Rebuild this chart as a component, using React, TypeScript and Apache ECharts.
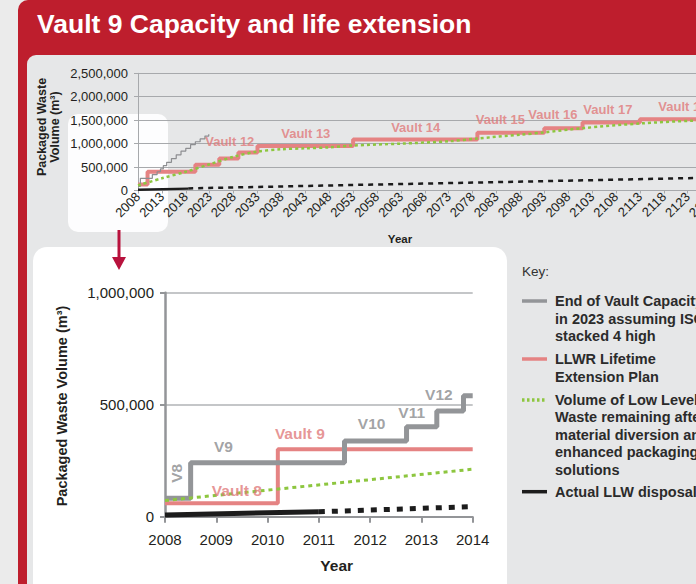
import React, { useEffect, useRef } from "react";
import * as echarts from "echarts";

const BASE_YEAR = 2008;

// ---------- Overview chart (2008 - 2133) ----------
const topCapacity: [number, number][] = [
  [2008, 90000], [2008.5, 260000], [2011, 340000], [2012, 400000], [2012.7, 460000],
  [2013.3, 530000], [2014, 600000], [2015, 680000], [2016, 760000], [2017, 840000],
  [2018, 900000], [2019, 980000], [2020, 1040000], [2021, 1100000], [2022, 1160000], [2022.8, 1200000],
];
const topPlan: [number, number][] = [
  [2008, 130000], [2010, 400000], [2020, 550000], [2025, 680000], [2029, 810000],
  [2033, 950000], [2053, 1090000], [2079, 1230000], [2093, 1330000], [2101, 1450000],
  [2113, 1520000], [2133, 1520000],
];
const topRemaining: [number, number][] = [
  [2008, 110000], [2013, 260000], [2018, 400000], [2023, 560000], [2028, 720000],
  [2033, 830000], [2038, 880000], [2043, 900000], [2048, 920000], [2053, 960000],
  [2063, 1000000], [2073, 1050000], [2079, 1110000], [2088, 1190000], [2093, 1240000],
  [2101, 1330000], [2113, 1430000], [2124, 1490000], [2133, 1520000],
];
const topActual: [number, number][] = [[2008, 15000], [2018.5, 40000]];
const topProjected: [number, number][] = [[2018.5, 45000], [2053, 118000], [2085, 182000], [2133, 285000]];
const topVaultLabels: [number, number, string][] = [
  [2027.2, 1041000, "Vault 12"], [2043.1, 1206000, "Vault 13"], [2066.1, 1340000, "Vault 14"],
  [2083.8, 1519000, "Vault 15"], [2094.8, 1625000, "Vault 16"], [2106.3, 1732000, "Vault 17"],
  [2122.0, 1802000, "Vault 18"],
];

// ---------- Detail chart (2008 - 2014) ----------
const zoomCapacity: [number, number][] = [
  [2008, 82000], [2008.5, 241000], [2011.5, 338000], [2012.71, 402000],
  [2013.3, 472000], [2013.82, 540000], [2014, 540000],
];
const zoomPlan: [number, number][] = [[2008, 60000], [2010.2, 301000], [2014, 301000]];
const zoomRemaining: [number, number][] = [[2008, 72000], [2014, 212000]];
const zoomActual: [number, number][] = [[2008, 8000], [2011, 22000]];
const zoomProjected: [number, number][] = [[2011, 22000], [2014, 45000]];
const zoomCapacityLabels: [number, number, string][] = [
  [2008.23, 194000, "V8"], [2009.14, 312000, "V9"], [2012.03, 414000, "V10"],
  [2012.81, 466000, "V11"], [2013.34, 546000, "V12"],
];
const zoomPlanLabels: [number, number, string][] = [
  [2009.4, 119000, "Vault 8"], [2010.63, 372000, "Vault 9"],
];

const FONT = '"Liberation Sans", Arial, Helvetica, sans-serif';
const RED = "#be1e2d";
const PANEL = "#e6e7e8";
const PINK = "#e58383";
const PINK_TEXT = "#e07a7a";
const GRAY = "#939598";
const GRAY_TEXT = "#8a8b8e";
const GREEN = "#8dc63f";
const BLACK = "#1c1c1c";
const ARROW = "#b8123d";
const AXIS_TOP = "#a7a9ac";
const TEXT = "#231f20";

const CHART_W = 760;
const CHART_H = 584;

const fmt = (v: number) => v.toLocaleString("en-US");
const shift = (pts: [number, number][]) => pts.map(([y, v]) => [y - BASE_YEAR, v]);

function keyText(y: number, text: string) {
  return {
    type: "text",
    z: 10,
    x: 555,
    y: y - 8.7,
    style: {
      text,
      font: `bold 14.5px ${FONT}`,
      fill: "#2b2b2b",
      lineHeight: 17.4,
      align: "left",
      verticalAlign: "top",
    },
  };
}

function keySwatch(y: number, color: string, dash?: number[]) {
  return {
    type: "line",
    z: 10,
    shape: { x1: 522, y1: y, x2: 547, y2: y },
    style: { stroke: color, lineWidth: 3.5, lineDash: dash },
  };
}

function buildOption(): any {
  return {
    animation: false,
    textStyle: { fontFamily: FONT },
    grid: [
      { left: 138, top: 73.3, width: 597.5, height: 117.2 },
      { left: 165, top: 292.7, width: 307.7, height: 224 },
    ],
    xAxis: [
      {
        gridIndex: 0, type: "value", min: 0, max: 125, interval: 5,
        axisLine: { lineStyle: { color: AXIS_TOP, width: 1 } },
        axisTick: { show: true, length: 3, lineStyle: { color: AXIS_TOP } },
        splitLine: { show: false },
        axisLabel: { rotate: 45, fontSize: 13, color: TEXT, margin: 4, formatter: (v: number) => String(v + BASE_YEAR) },
      },
      {
        gridIndex: 1, type: "value", min: 2008, max: 2014, interval: 1,
        axisLine: { lineStyle: { color: GRAY, width: 2 } },
        axisTick: { show: true, length: 6, lineStyle: { color: GRAY, width: 2 } },
        splitLine: { show: false },
        axisLabel: { fontSize: 15, color: TEXT, margin: 15, formatter: (v: number) => String(v) },
      },
    ],
    yAxis: [
      {
        gridIndex: 0, type: "value", min: 0, max: 2500000, interval: 500000,
        axisLine: { show: true, lineStyle: { color: AXIS_TOP, width: 1 } },
        axisTick: { show: true, length: 4, lineStyle: { color: AXIS_TOP } },
        splitLine: { show: true, lineStyle: { color: AXIS_TOP, width: 1 } },
        axisLabel: { fontSize: 13, color: TEXT, margin: 10, formatter: fmt },
      },
      {
        gridIndex: 1, type: "value", min: 0, max: 1000000, interval: 500000,
        axisLine: { show: true, lineStyle: { color: GRAY, width: 2.5 } },
        axisTick: { show: true, length: 5, lineStyle: { color: GRAY, width: 2 } },
        splitLine: { show: true, lineStyle: { color: "#b1b3b6", width: 1.5 } },
        axisLabel: { fontSize: 15, color: TEXT, margin: 11, formatter: fmt },
      },
    ],
    series: [
      // ----- overview -----
      {
        name: "LLWR Lifetime Extension Plan", type: "line", xAxisIndex: 0, yAxisIndex: 0,
        step: "end", symbol: "none", data: shift(topPlan),
        lineStyle: { color: PINK, width: 4 }, z: 3,
      },
      {
        name: "End of Vault Capacity in 2023 assuming ISOs stacked 4 high", type: "line", xAxisIndex: 0, yAxisIndex: 0,
        step: "end", symbol: "none", data: shift(topCapacity),
        lineStyle: { color: "#8d8e91", width: 1.2 }, z: 4,
      },
      {
        name: "Volume of Low Level Waste remaining", type: "line", xAxisIndex: 0, yAxisIndex: 0,
        smooth: 0.3, symbol: "none", data: shift(topRemaining),
        lineStyle: { color: GREEN, width: 2.5, type: [3, 3] }, z: 5,
      },
      {
        name: "Actual LLW disposal", type: "line", xAxisIndex: 0, yAxisIndex: 0,
        symbol: "none", data: shift(topActual),
        lineStyle: { color: BLACK, width: 2.5 }, z: 6,
      },
      {
        name: "Projected LLW disposal", type: "line", xAxisIndex: 0, yAxisIndex: 0,
        symbol: "none", data: shift(topProjected),
        lineStyle: { color: BLACK, width: 2.5, type: [5, 5] }, z: 6,
      },
      {
        name: "Vault labels", type: "scatter", xAxisIndex: 0, yAxisIndex: 0,
        symbolSize: 0, silent: true, z: 7,
        data: topVaultLabels.map(([y, v, t]) => ({ value: [y - BASE_YEAR, v], name: t })),
        label: { show: true, position: "inside", formatter: "{b}", color: PINK_TEXT, fontSize: 13, fontWeight: "bold" },
      },
      // ----- detail -----
      {
        name: "LLWR Lifetime Extension Plan (detail)", type: "line", xAxisIndex: 1, yAxisIndex: 1,
        step: "end", symbol: "none", data: zoomPlan,
        lineStyle: { color: PINK, width: 4 }, z: 3,
      },
      {
        name: "End of Vault Capacity (detail)", type: "line", xAxisIndex: 1, yAxisIndex: 1,
        step: "end", symbol: "none", data: zoomCapacity,
        lineStyle: { color: GRAY, width: 5 }, z: 4,
      },
      {
        name: "Volume remaining (detail)", type: "line", xAxisIndex: 1, yAxisIndex: 1,
        symbol: "none", data: zoomRemaining,
        lineStyle: { color: GREEN, width: 3, type: [4, 4] }, z: 5,
      },
      {
        name: "Actual LLW disposal (detail)", type: "line", xAxisIndex: 1, yAxisIndex: 1,
        symbol: "none", data: zoomActual,
        lineStyle: { color: BLACK, width: 5 }, z: 6,
      },
      {
        name: "Projected LLW disposal (detail)", type: "line", xAxisIndex: 1, yAxisIndex: 1,
        symbol: "none", data: zoomProjected,
        lineStyle: { color: BLACK, width: 5, type: [6, 7] }, z: 6,
      },
      {
        name: "Vault capacity labels", type: "scatter", xAxisIndex: 1, yAxisIndex: 1,
        symbolSize: 0, silent: true, z: 7,
        data: zoomCapacityLabels.map(([y, v, t], i) => ({
          value: [y, v], name: t, label: i === 0 ? { rotate: 90 } : undefined,
        })),
        label: { show: true, position: "inside", formatter: "{b}", color: GRAY_TEXT, fontSize: 15.5, fontWeight: "bold" },
      },
      {
        name: "Plan vault labels", type: "scatter", xAxisIndex: 1, yAxisIndex: 1,
        symbolSize: 0, silent: true, z: 7,
        data: zoomPlanLabels.map(([y, v, t]) => ({ value: [y, v], name: t })),
        label: { show: true, position: "inside", formatter: "{b}", color: PINK_TEXT, fontSize: 15.5, fontWeight: "bold" },
      },
    ],
    graphic: [
      { type: "rect", z: -20, silent: true, shape: { x: 0, y: 0, width: CHART_W, height: CHART_H }, style: { fill: "#ebebeb" } },
      { type: "rect", z: -19, silent: true, shape: { x: 18, y: 0, width: CHART_W, height: 620, r: [10, 0, 0, 0] }, style: { fill: RED } },
      { type: "rect", z: -18, silent: true, shape: { x: 27, y: 55, width: CHART_W, height: 600, r: [9, 0, 0, 0] }, style: { fill: PANEL } },
      { type: "rect", z: -17, silent: true, shape: { x: 68, y: 114, width: 100, height: 118, r: 10 }, style: { fill: "#ffffff", opacity: 0.92 } },
      { type: "rect", z: -17, silent: true, shape: { x: 33, y: 247, width: 474, height: 360, r: 14 }, style: { fill: "#ffffff" } },
      { type: "line", z: -16, silent: true, shape: { x1: 119, y1: 230, x2: 119, y2: 259 }, style: { stroke: ARROW, lineWidth: 3 } },
      { type: "polygon", z: -16, silent: true, shape: { points: [[112, 257], [126, 257], [119, 270]] }, style: { fill: ARROW } },
      {
        type: "text", z: 10, x: 37, y: 24,
        style: { text: "Vault 9 Capacity and life extension", font: `bold 26.5px ${FONT}`, fill: "#ffffff", align: "left", verticalAlign: "middle" },
      },
      {
        type: "text", z: 10, x: 48.5, y: 127, rotation: Math.PI / 2,
        style: { text: "Packaged Waste\nVolume (m³)", font: `bold 12.5px ${FONT}`, fill: TEXT, lineHeight: 13.5, align: "center", verticalAlign: "middle" },
      },
      {
        type: "text", z: 10, x: 400, y: 239,
        style: { text: "Year", font: `bold 11.5px ${FONT}`, fill: TEXT, align: "center", verticalAlign: "middle" },
      },
      {
        type: "text", z: 10, x: 61.7, y: 406, rotation: Math.PI / 2,
        style: { text: "Packaged Waste Volume (m³)", font: `bold 14.5px ${FONT}`, fill: TEXT, align: "center", verticalAlign: "middle" },
      },
      {
        type: "text", z: 10, x: 336.7, y: 565,
        style: { text: "Year", font: `bold 15.5px ${FONT}`, fill: TEXT, align: "center", verticalAlign: "middle" },
      },
      {
        type: "text", z: 10, x: 522, y: 271,
        style: { text: "Key:", font: `13.5px ${FONT}`, fill: "#333333", align: "left", verticalAlign: "middle" },
      },
      keySwatch(301, GRAY),
      keyText(301.5, "End of Vault Capacity\nin 2023 assuming ISOs\nstacked 4 high"),
      keySwatch(359, PINK),
      keyText(359.3, "LLWR Lifetime\nExtension Plan"),
      keySwatch(400, GREEN, [2.5, 2.5]),
      keyText(400, "Volume of Low Level\nWaste remaining after\nmaterial diversion and\nenhanced packaging\nsolutions"),
      keySwatch(491.7, BLACK),
      keyText(491.7, "Actual LLW disposal"),
    ],
  };
}

export default function App() {
  const ref = useRef<HTMLDivElement>(null);
  useEffect(() => {
    if (!ref.current) return;
    const chart = echarts.init(ref.current, undefined, { renderer: "svg" });
    chart.setOption(buildOption());
    return () => chart.dispose();
  }, []);
  return (
    <div style={{ position: "fixed", left: 0, top: 0, width: 696, height: 584, overflow: "hidden", background: "#ebebeb" }}>
      <div ref={ref} style={{ width: CHART_W, height: CHART_H }} />
    </div>
  );
}
